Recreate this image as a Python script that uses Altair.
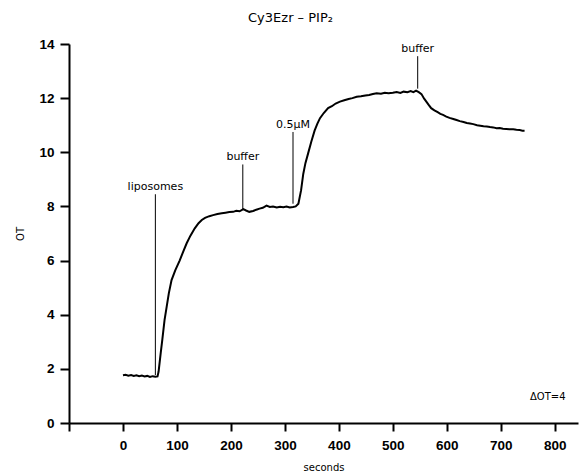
import altair as alt
import pandas as pd

# ---- data ----
seconds = [0, 5, 10, 15, 20, 25, 30, 35, 40, 45, 50, 55, 60, 64, 66,
           70, 73, 77, 81, 85, 90, 97, 105, 112, 118, 125, 133, 140, 146, 152,
           160, 167, 175, 183, 190, 197, 204, 210, 216, 223, 228, 234, 241, 247,
           253, 259, 266, 272, 278, 285, 291, 297, 303, 309, 315, 320, 325, 330,
           334, 338, 343, 349, 355, 360, 365, 372, 380, 387, 394, 402, 410, 418,
           425, 433, 441, 449, 456, 463, 470, 478, 485, 492, 500, 507, 514, 520,
           527, 533, 538, 543, 548, 553, 558, 562, 566, 571, 577, 583, 588, 593,
           599, 605, 612, 618, 624, 631, 637, 643, 649, 656, 662, 668, 674, 680,
           686, 692, 698, 704, 710, 716, 723, 729, 735, 740, 744]
ot = [1.76, 1.78, 1.75, 1.77, 1.74, 1.76, 1.73, 1.75, 1.72, 1.74, 1.70, 1.73, 1.71, 1.72, 1.9,
      2.6, 3.1, 3.8, 4.3, 4.8, 5.28, 5.65, 6.0, 6.35, 6.64, 6.92, 7.19, 7.38, 7.5, 7.58,
      7.64, 7.68, 7.72, 7.75, 7.77, 7.79, 7.8, 7.84, 7.82, 7.9, 7.85, 7.8, 7.83, 7.88,
      7.92, 7.95, 8.03, 7.98, 8.0, 7.96, 7.99, 7.97, 8.0, 7.96, 7.98, 8.0, 8.1, 8.6,
      9.2, 9.6, 9.96, 10.4, 10.8, 11.05, 11.26, 11.45, 11.63, 11.7, 11.8, 11.87, 11.92, 11.97,
      12.0, 12.05, 12.07, 12.1, 12.12, 12.15, 12.18, 12.16, 12.2, 12.18, 12.2, 12.23, 12.19, 12.24,
      12.22, 12.26, 12.22, 12.28, 12.22, 12.15, 11.98, 11.87, 11.76, 11.63, 11.55, 11.48, 11.42, 11.38,
      11.32, 11.27, 11.23, 11.19, 11.15, 11.12, 11.08, 11.06, 11.04, 11.0, 10.98, 10.96, 10.95, 10.93,
      10.92, 10.89, 10.9, 10.87, 10.86, 10.85, 10.85, 10.83, 10.82, 10.8, 10.8]

ann_labels = ["liposomes", "buffer", "0.5\u03bcM", "buffer"]
ann_x = [60, 222, 315, 546]
ann_top = [8.45, 9.55, 10.75, 13.55]
ann_bottom = [1.77, 7.9, 8.1, 12.35]

note_text = ["\u0394OT=4"]
note_x = [787]
note_y = [0.96]

x_ticks = list(range(-100, 801, 50))
y_ticks = list(range(0, 15))

df = pd.DataFrame({"seconds": seconds, "OT": ot})
ann = pd.DataFrame({"label": ann_labels, "x": ann_x, "top": ann_top, "bottom": ann_bottom})
note = pd.DataFrame({"label": note_text, "x": note_x, "y": note_y})

xscale = alt.Scale(domain=[-100, 843], nice=False, zero=False)
yscale = alt.Scale(domain=[0, 14], nice=False)

xaxis = alt.Axis(
    values=x_ticks,
    labelExpr="datum.value >= 0 && datum.value % 100 === 0 ? datum.value : ''",
    tickSize={"condition": {"test": "datum.value % 100 === 0", "value": 8}, "value": 4},
    labelPadding=7, title="seconds", titlePadding=11, grid=False,
)
yaxis = alt.Axis(
    values=y_ticks,
    labelExpr="datum.value % 2 === 0 ? datum.value : ''",
    tickSize={"condition": {"test": "datum.value % 2 === 0", "value": 9}, "value": 4},
    labelPadding=6, title="OT", titlePadding=13, grid=False,
)

line = alt.Chart(df).mark_line(color="black", strokeWidth=2).encode(
    x=alt.X("seconds:Q", scale=xscale, axis=xaxis),
    y=alt.Y("OT:Q", scale=yscale, axis=yaxis),
)

rules = alt.Chart(ann).mark_rule(color="black", strokeWidth=1).encode(
    x="x:Q", y="top:Q", y2="bottom:Q"
)
labels = alt.Chart(ann).mark_text(
    font="DejaVu Sans", fontSize=11, baseline="bottom", dy=-2, color="black"
).encode(x="x:Q", y="top:Q", text="label:N")

note_mark = alt.Chart(note).mark_text(
    font="DejaVu Sans", fontSize=10, baseline="middle", color="black"
).encode(x="x:Q", y="y:Q", text="label:N")

chart = alt.layer(line, rules, labels, note_mark).properties(
    width=509,
    height=379,
    title=alt.TitleParams("Cy3Ezr \u2013 PIP\u2082", anchor="middle", dx=-33, offset=12,
                          font="DejaVu Sans", fontSize=13, fontWeight="normal", color="black"),
    padding={"left": 69, "top": 44, "right": 3, "bottom": 53},
    autosize=alt.AutoSizeParams(type="none"),
).configure_view(stroke=None).configure_axis(
    domainColor="black", domainWidth=2, tickColor="black", tickWidth=2,
    labelFont="Liberation Sans", labelFontSize=13.5, labelFontWeight="bold", labelColor="black",
    titleFont="DejaVu Sans", titleFontSize=10, titleFontWeight="normal", titleColor="black",
)

chart.save("out.html", embed_options={"renderer": "svg", "actions": False})
